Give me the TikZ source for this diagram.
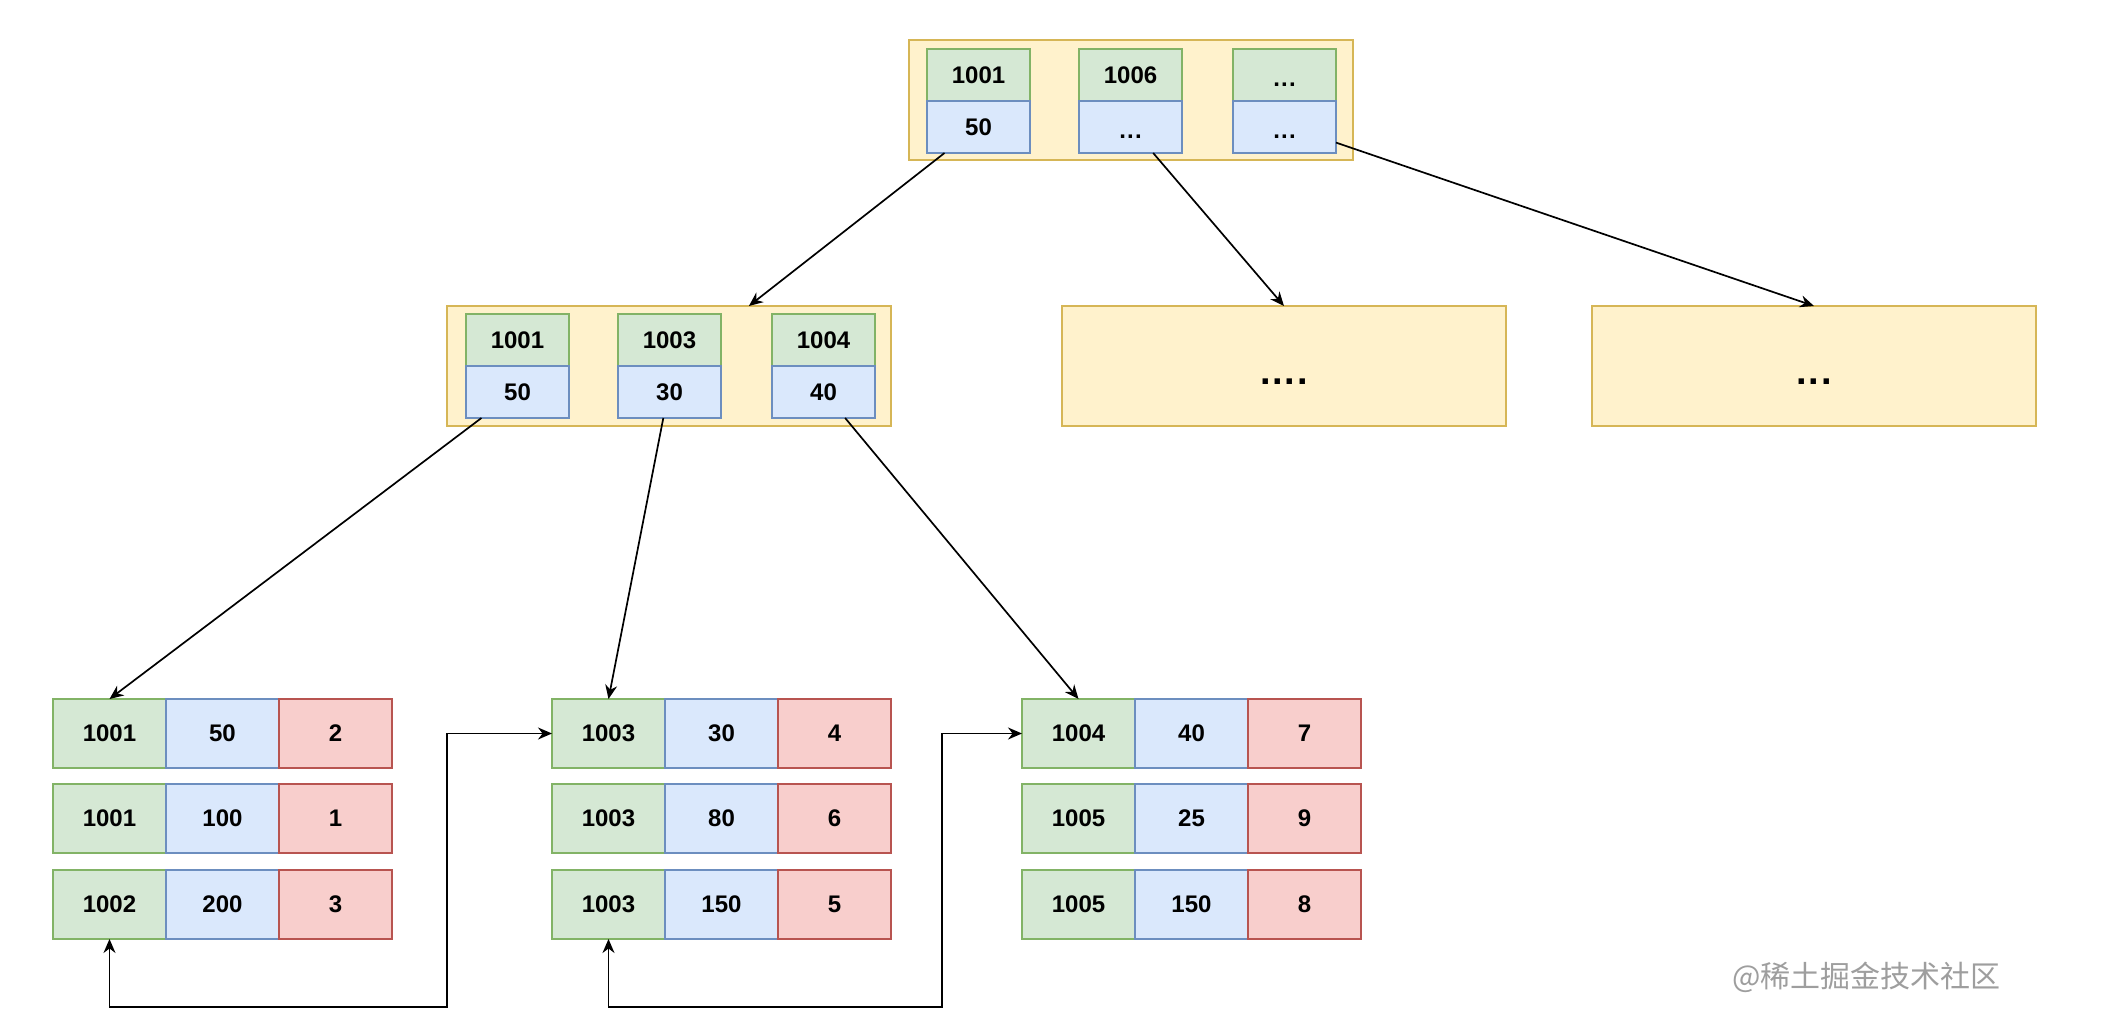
\documentclass[tikz,border=0pt]{standalone}
\usepackage{fontspec}
\setmainfont{Liberation Sans}
\newfontfamily\cjk{Noto Sans CJK SC}
\usetikzlibrary{calc,arrows.meta}
\definecolor{gfill}{HTML}{D5E8D4}\definecolor{gline}{HTML}{82B366}
\definecolor{bfill}{HTML}{DAE8FC}\definecolor{bline}{HTML}{6C8EBF}
\definecolor{rfill}{HTML}{F8CECC}\definecolor{rline}{HTML}{B85450}
\definecolor{yfill}{HTML}{FFF2CC}\definecolor{yline}{HTML}{D6B656}
\newcommand{\dotsx}[1]{\raisebox{-0.25em}{#1}\vphantom{0}}
\begin{document}
\begin{tikzpicture}[x=1pt,y=-1pt,
  every node/.style={inner sep=0pt,outer sep=0pt,anchor=north west,line width=1.3pt,
    font=\fontsize{24}{28}\selectfont\bfseries},
  cont/.style={draw=yline,fill=yfill,minimum width=444pt,minimum height=120pt},
  kcell/.style={draw=gline,fill=gfill,minimum width=103pt,minimum height=52pt},
  vcell/.style={draw=bline,fill=bfill,minimum width=103pt,minimum height=52pt},
  lg/.style={draw=gline,fill=gfill,minimum width=113pt,minimum height=69pt},
  lb/.style={draw=bline,fill=bfill,minimum width=113pt,minimum height=69pt},
  lr/.style={draw=rline,fill=rfill,minimum width=113pt,minimum height=69pt},
  conn/.style={draw=black,line width=1.7pt,-{Stealth[length=14pt,width=12pt]}},
  link/.style={draw=black,line width=1.7pt,{Stealth[length=14pt,width=12pt]}-{Stealth[length=14pt,width=12pt]}},
  bigdots/.style={font=\fontsize{38}{40}\selectfont\bfseries}
]
\useasboundingbox (0,0) rectangle (2105,1019);
\fill[white] (0,0) rectangle (2105,1019);

% root
\node[cont] (root) at (909,40) {};
\node[kcell] (r1k) at (927,49) {1001};
\node[vcell] (r1v) at (927,101) {50};
\node[kcell] (r2k) at (1079,49) {1006};
\node[vcell] (r2v) at (1079,101) {\dotsx{.\kern0.05em.\kern0.05em.}};
\node[kcell] (r3k) at (1233,49) {\dotsx{.\kern0.05em.\kern0.05em.}};
\node[vcell] (r3v) at (1233,101) {\dotsx{.\kern0.05em.\kern0.05em.}};

% middle
\node[cont] (mid) at (447,306) {};
\node[kcell] (m1k) at (466,314) {1001};
\node[vcell] (m1v) at (466,366) {50};
\node[kcell] (m2k) at (618,314) {1003};
\node[vcell] (m2v) at (618,366) {30};
\node[kcell] (m3k) at (772,314) {1004};
\node[vcell] (m3v) at (772,366) {40};

% other internal nodes
\node[cont,bigdots] (box1) at (1062,306) {\dotsx{.\kern0.05em.\kern0.05em.\kern0.05em.}};
\node[cont,bigdots] (box2) at (1592,306) {\dotsx{.\kern0.05em.\kern0.05em.}};

% leaves column 1
\node[lg] (L11a) at (53,699) {1001};
\node[lb] (L11b) at (166,699) {50};
\node[lr] (L11c) at (279,699) {2};
\node[lg] (L12a) at (53,784) {1001};
\node[lb] (L12b) at (166,784) {100};
\node[lr] (L12c) at (279,784) {1};
\node[lg] (L13a) at (53,870) {1002};
\node[lb] (L13b) at (166,870) {200};
\node[lr] (L13c) at (279,870) {3};

% leaves column 2
\node[lg] (L21a) at (552,699) {1003};
\node[lb] (L21b) at (665,699) {30};
\node[lr] (L21c) at (778,699) {4};
\node[lg] (L22a) at (552,784) {1003};
\node[lb] (L22b) at (665,784) {80};
\node[lr] (L22c) at (778,784) {6};
\node[lg] (L23a) at (552,870) {1003};
\node[lb] (L23b) at (665,870) {150};
\node[lr] (L23c) at (778,870) {5};

% leaves column 3
\node[lg] (L31a) at (1022,699) {1004};
\node[lb] (L31b) at (1135,699) {40};
\node[lr] (L31c) at (1248,699) {7};
\node[lg] (L32a) at (1022,784) {1005};
\node[lb] (L32b) at (1135,784) {25};
\node[lr] (L32c) at (1248,784) {9};
\node[lg] (L33a) at (1022,870) {1005};
\node[lb] (L33b) at (1135,870) {150};
\node[lr] (L33c) at (1248,870) {8};

% connectors
\draw[conn] ($(r1v.south west)!0.17!(r1v.south east)$) -- ($(mid.north west)!0.68!(mid.north east)$);
\draw[conn] ($(r2v.south west)!0.72!(r2v.south east)$) -- (box1.north);
\draw[conn] ($(r3v.north east)!0.8!(r3v.south east)$) -- (box2.north);
\draw[conn] ($(m1v.south west)!0.15!(m1v.south east)$) -- (L11a.north);
\draw[conn] ($(m2v.south west)!0.44!(m2v.south east)$) -- (L21a.north);
\draw[conn] ($(m3v.south west)!0.71!(m3v.south east)$) -- (L31a.north);

\coordinate (k1) at (447,1007);
\coordinate (k2) at (942,1007);
\draw[link] (L13a.south) |- (k1) |- (L21a.west);
\draw[link] (L23a.south) |- (k2) |- (L31a.west);

% watermark
\node[font=\cjk\fontsize{30}{32}\selectfont,text=black!38,anchor=west] (wm) at (1732,977) {@稀土掘金技术社区};
\end{tikzpicture}
\end{document}
